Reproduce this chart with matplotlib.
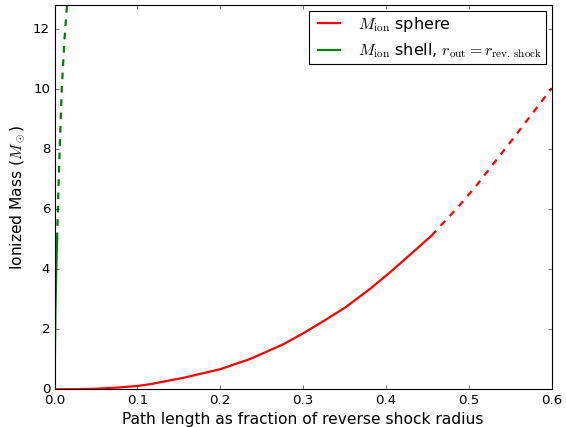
import numpy as np
import matplotlib
matplotlib.use("Agg")
import matplotlib.pyplot as plt

# red curve: ionized mass of sphere vs path length fraction
sphere_x_solid = [0.0, 0.025, 0.05, 0.075, 0.1, 0.115, 0.155, 0.2, 0.236, 0.276,
                  0.301, 0.328, 0.3505, 0.381, 0.405, 0.429, 0.455]
sphere_m_solid = [0.0, 0.002, 0.02, 0.055, 0.11, 0.17, 0.38, 0.67, 1.01, 1.5,
                  1.88, 2.33, 2.72, 3.35, 3.9, 4.48, 5.12]
sphere_x_dash = [0.455, 0.465, 0.487, 0.5095, 0.554, 0.6]
sphere_m_dash = [5.12, 5.42, 6.07, 6.8, 8.37, 10.03]

# green curve: shell with r_out = reverse shock radius
shell_x_solid = [0.0, 0.0005, 0.001, 0.002, 0.003]
shell_m_solid = [0.0, 1.5, 2.6, 4.0, 5.0]
shell_x_dash = [0.003, 0.0045, 0.006, 0.0086, 0.012, 0.0155]
shell_m_dash = [5.0, 6.6, 7.9, 10.0, 11.7, 13.0]

plt.style.use('classic')

fig = plt.figure(figsize=(7.075, 5.3375), dpi=80)
ax = fig.add_axes([0.0965, 0.0883, 0.8782, 0.9])

ax.plot(sphere_x_solid, sphere_m_solid, 'r-', lw=2, label=r'$M_{\rm ion}$ sphere')
ax.plot(sphere_x_dash, sphere_m_dash, 'r--', lw=2)
ax.plot(shell_x_solid, shell_m_solid, 'g-', lw=2,
        label=r'$M_{\rm ion}$ shell, $r_{\rm out} = r_{\rm rev.\,shock}$')
ax.plot(shell_x_dash, shell_m_dash, 'g--', lw=2)

ax.set_xlim(0, 0.6)
ax.set_ylim(0, 12.8)
ax.set_xlabel('Path length as fraction of reverse shock radius', fontsize=14)
ax.set_ylabel(r'Ionized Mass ($M_\odot$)', fontsize=14)
ax.legend(loc='upper right', borderaxespad=0.35, borderpad=0.25)

fig.savefig('out.png', dpi=80, facecolor='white')
